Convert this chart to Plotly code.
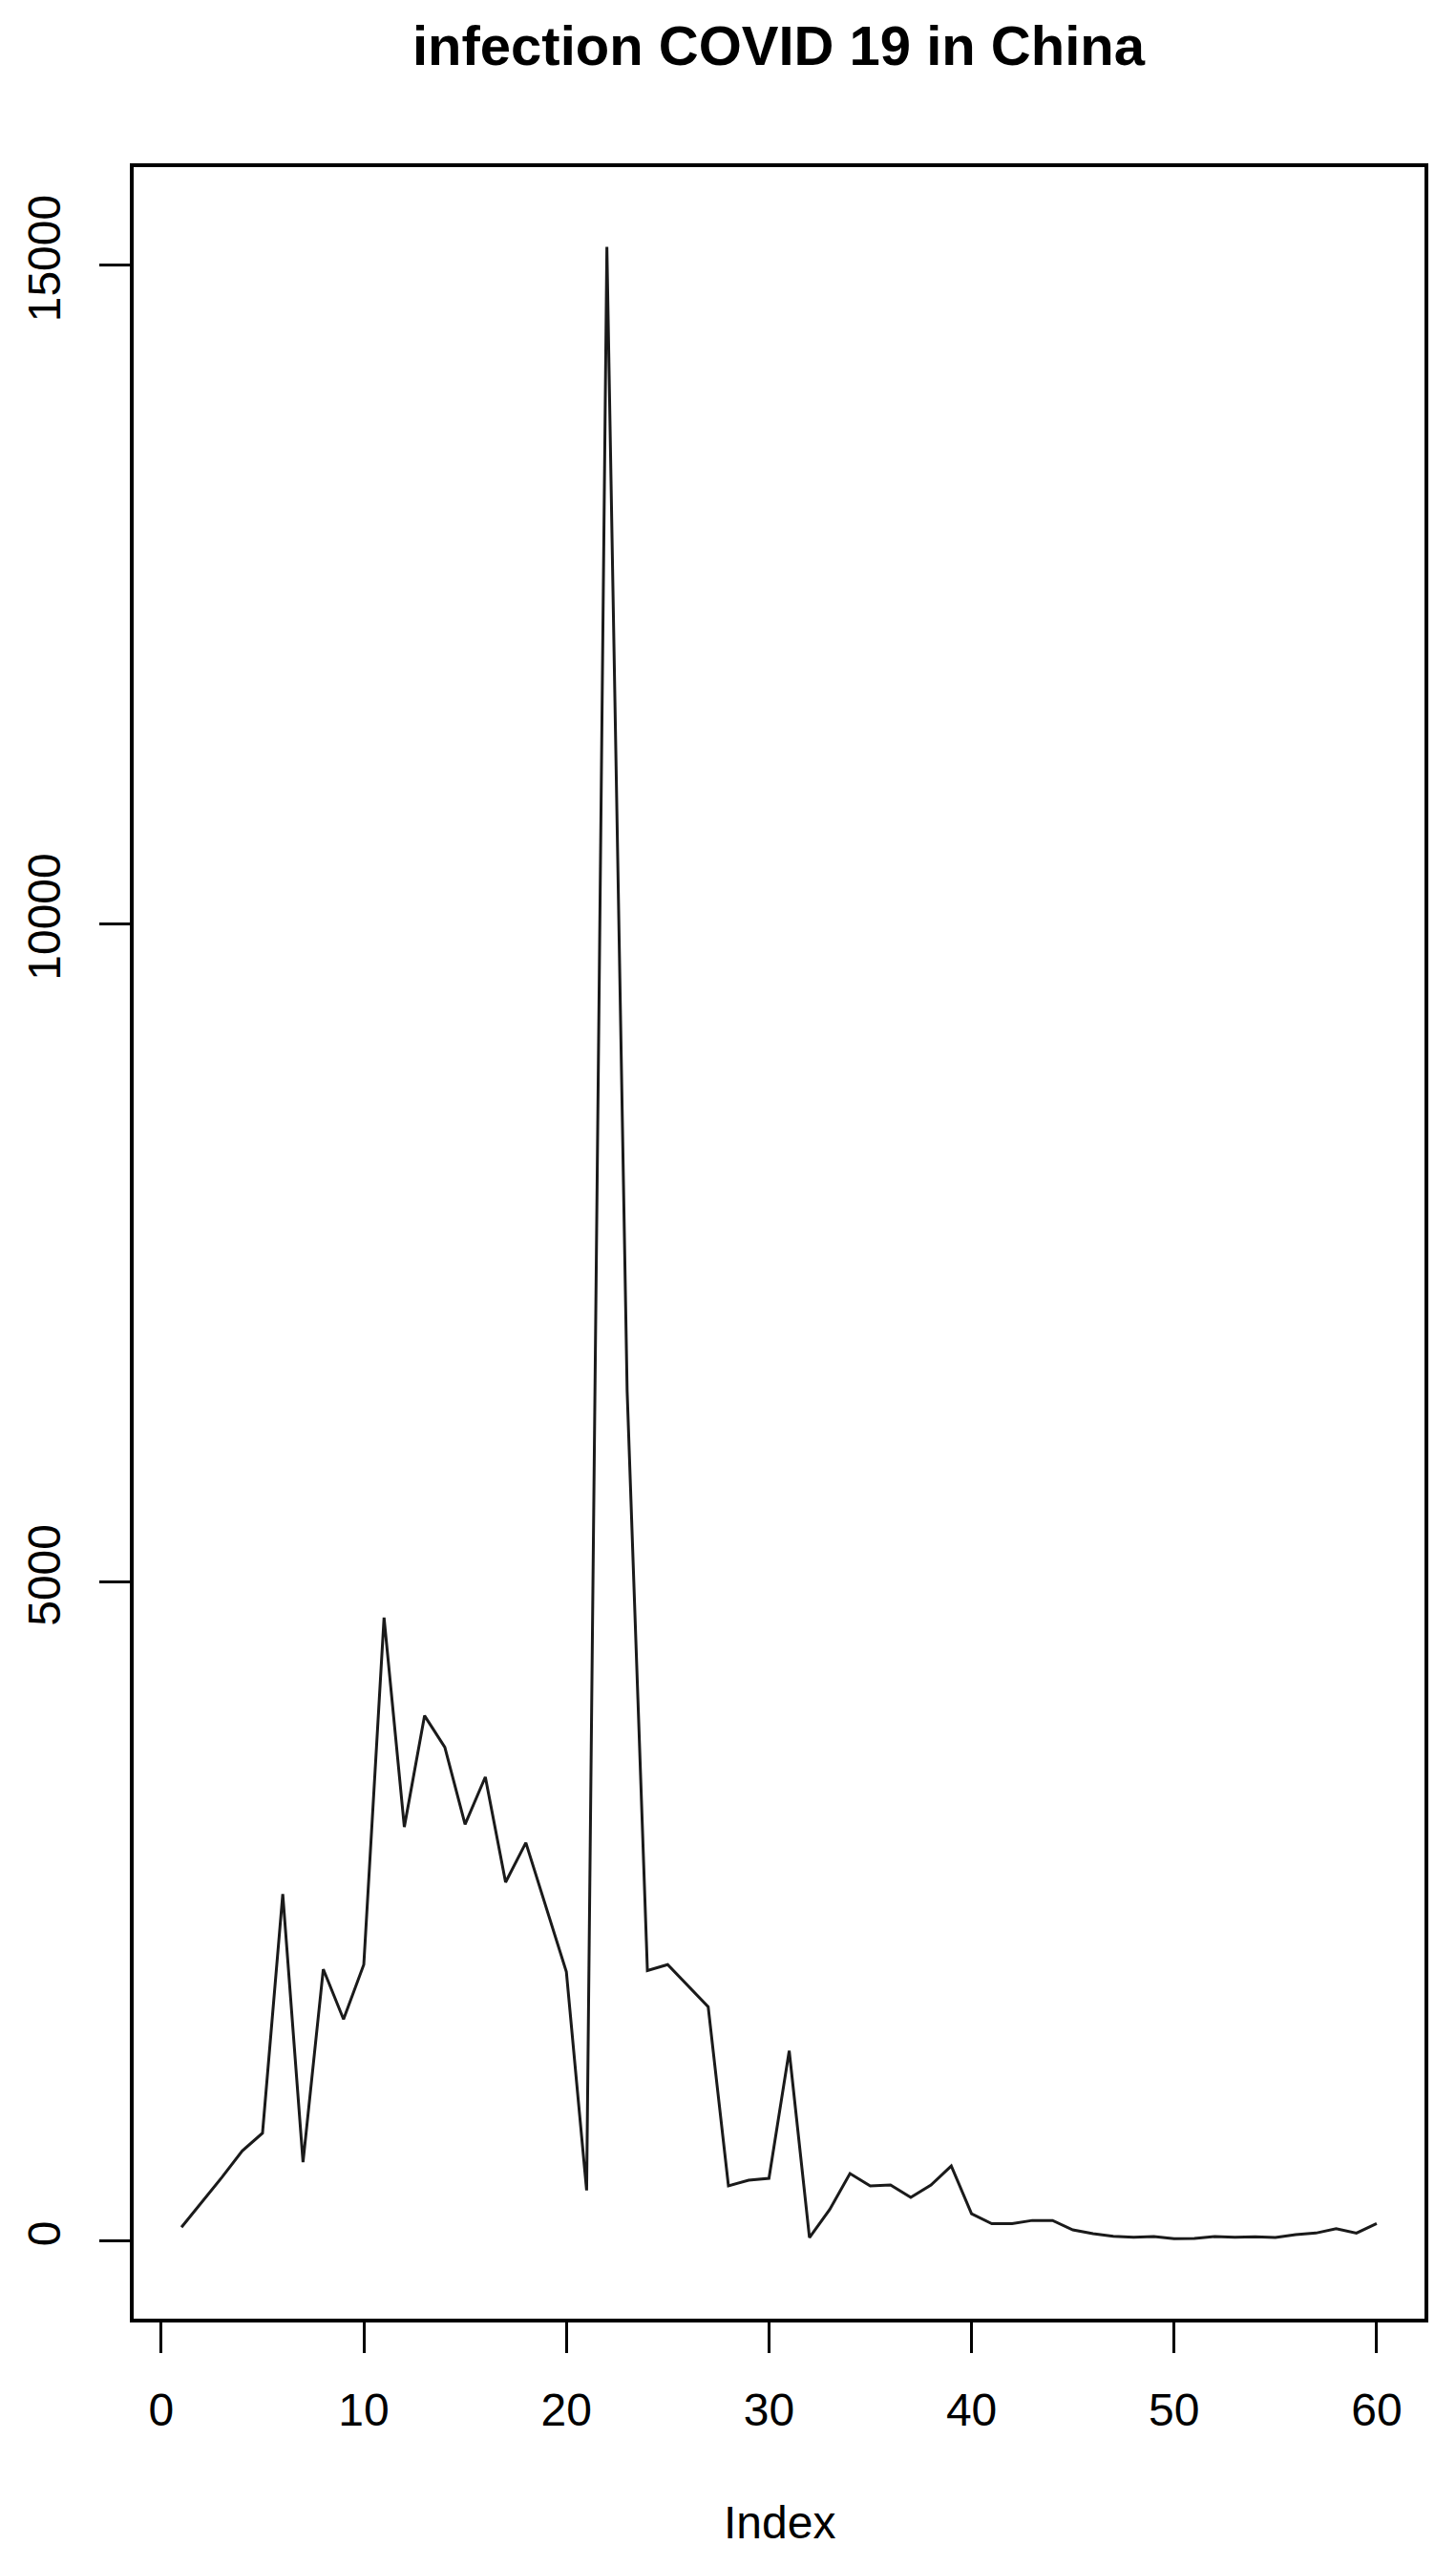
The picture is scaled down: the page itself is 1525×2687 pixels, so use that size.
import plotly.graph_objects as go

# daily new infections (index 1..60)
index = list(range(1, 61))
cases = [
    100, 290, 480, 680, 815, 2630, 595, 2060, 1680, 2095,
    4730, 3140, 3985, 3745, 3160, 3520, 2720, 3020, 2525, 2040,
    380, 15140, 6450, 2050, 2095, 1935, 1775, 415, 458, 472,
    1440, 22, 235, 508, 414, 421, 327, 421, 566, 203,
    127, 127, 152, 152, 80, 52, 32, 25, 30, 14,
    15, 29, 24, 27, 22, 44, 56, 90, 56, 128,
]

x_ticks = [0, 10, 20, 30, 40, 50, 60]
y_ticks = [0, 5000, 10000, 15000]

fig = go.Figure()

fig.add_trace(go.Scatter(
    x=index,
    y=cases,
    mode='lines',
    line=dict(color='#1a1a1a', width=3),
    showlegend=False,
))

font = dict(family='Liberation Sans, Arial, Helvetica, sans-serif', color='black')

# the page body has an 8px margin, so the figure is a bit smaller than the window
fig.update_layout(
    width=1509,
    height=2671,
    margin=dict(l=129, r=25, t=167, b=251),
    paper_bgcolor='white',
    plot_bgcolor='white',
    font=dict(**font, size=48),
    xaxis=dict(
        range=[-1.36, 62.36],
        tickvals=x_ticks,
        ticks='outside', ticklen=32, tickwidth=3, tickcolor='black',
        showline=True, linecolor='black', linewidth=4, mirror=True,
        showgrid=False, zeroline=False,
        tickfont=dict(**font, size=48),
        ticklabelstandoff=18,
    ),
    yaxis=dict(
        range=[-594, 15745],
        tickvals=y_ticks,
        ticktext=[str(v) for v in y_ticks],
        tickangle=-90,
        ticks='outside', ticklen=32, tickwidth=3, tickcolor='black',
        showline=True, linecolor='black', linewidth=4, mirror=True,
        showgrid=False, zeroline=False,
        tickfont=dict(**font, size=48),
        ticklabelstandoff=22,
    ),
    annotations=[
        dict(text='<b>infection COVID 19 in China</b>', xref='paper', yref='paper',
             x=0.5, y=1.0564, xanchor='center', yanchor='middle', showarrow=False,
             font=dict(**font, size=58)),
        dict(text='Index', xref='paper', yref='paper',
             x=0.5, y=-0.0946, xanchor='center', yanchor='middle', showarrow=False,
             font=dict(**font, size=48)),
    ],
)

fig.write_html("out.html")
